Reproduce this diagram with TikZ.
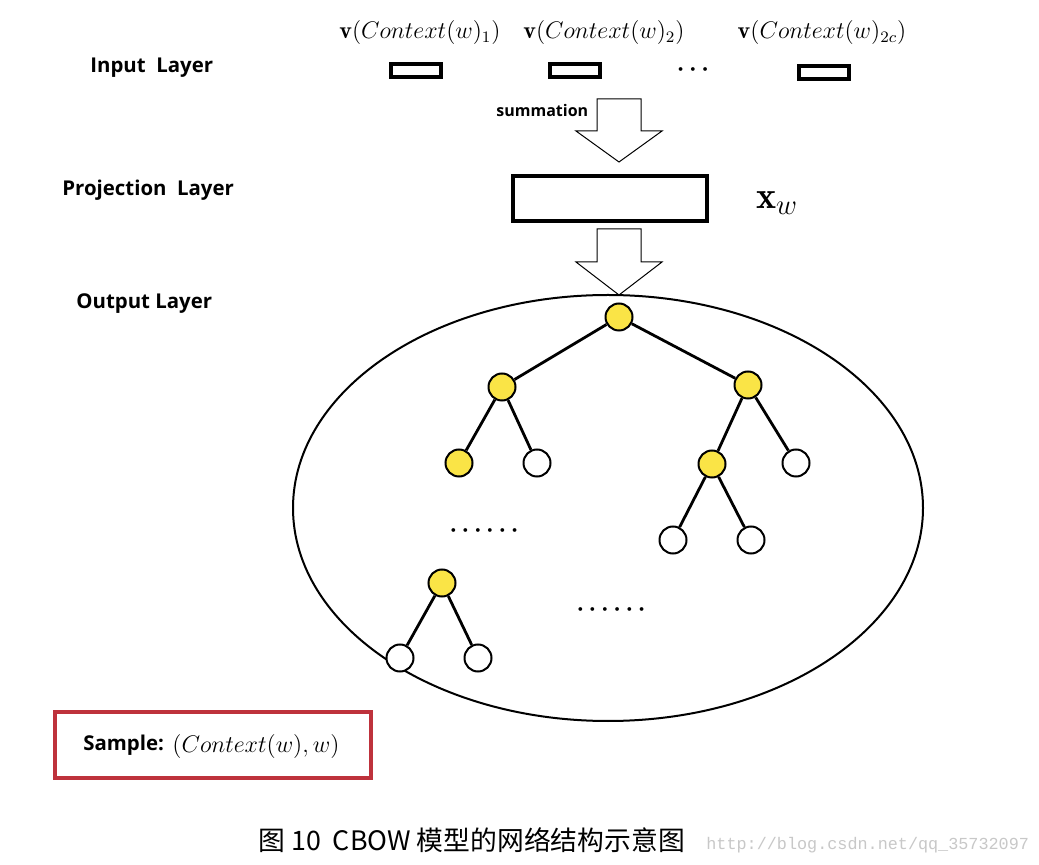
\documentclass[tikz,border=0pt]{standalone}
\usepackage{fontspec}
\newfontfamily\labfont{Open Sans}
\newfontfamily\cjk{Noto Sans CJK SC}
\newfontfamily\urlfont{Liberation Mono}
\definecolor{nodeyellow}{RGB}{250,228,70}
\definecolor{samplered}{RGB}{190,50,60}
\definecolor{urlgray}{RGB}{200,200,200}
\tikzset{
  layerlab/.style={font=\labfont\bfseries\fontsize{10.2}{12}\selectfont, inner sep=0pt, anchor=west},
  mathlab/.style={font=\fontsize{12}{14}\selectfont, inner sep=0pt},
  inbox/.style={draw, line width=2pt, minimum width=25pt, minimum height=6.5pt, inner sep=0pt},
  projbox/.style={draw, line width=2pt, minimum width=97pt, minimum height=22.5pt, inner sep=0pt},
  blockarrow/.style={draw, line width=0.5pt, fill=white},
  tnode/.style={circle, draw, line width=1pt, minimum size=13.5pt, inner sep=0pt},
  ynode/.style={tnode, fill=nodeyellow},
  wnode/.style={tnode, fill=white},
  tedge/.style={line width=1.4pt},
  dotlab/.style={font=\fontsize{12.5}{15}\selectfont\boldmath, inner sep=0pt}
}
\begin{document}
\begin{tikzpicture}[x=0.5pt,y=-0.5pt]
\useasboundingbox[fill=white] (0,0) rectangle (1039,865);
% input layer
\node[mathlab] (c1) at (420,33) {$\mathbf{v}(Context(w)_1)$};
\node[mathlab] (c2) at (604,33) {$\mathbf{v}(Context(w)_2)$};
\node[mathlab] (c3) at (822,33) {$\mathbf{v}(Context(w)_{2c})$};
\node[inbox] (b1) at (416,71) {};
\node[inbox] (b2) at (575,71) {};
\node[inbox] (b3) at (824,73) {};
\node[dotlab] (idots) at (693,70) {$\cdots$};
\node[layerlab] (il) at (90,68) {Input\ \ Layer};
% summation arrow
\node[layerlab, font=\labfont\bfseries\fontsize{8}{10}\selectfont] (sum) at (496,111) {summation};
\coordinate (a1) at (619,99);
\draw[blockarrow] ([xshift=-11pt]a1) -- ([xshift=11pt]a1) -- ++(0,32) -- ++(10.5pt,0)
  -- ([yshift=-31.5pt]a1) -- ([xshift=-21.5pt,yshift=-16pt]a1) -- ([xshift=-11pt,yshift=-16pt]a1) -- cycle;
% projection
\node[projbox] (proj) at (610,198.5) {};
\node[inner sep=0pt, font=\fontsize{19}{22}\selectfont] (xw) at (777,203) {$\mathbf{x}_w$};
\node[layerlab] (pl) at (62,190) {Projection\ \ Layer};
\coordinate (a2) at (619,229);
\draw[blockarrow] ([xshift=-11pt]a2) -- ([xshift=11pt]a2) -- ++(0,33) -- ++(10.5pt,0)
  -- ([yshift=-33pt]a2) -- ([xshift=-21.5pt,yshift=-16.5pt]a2) -- ([xshift=-11pt,yshift=-16.5pt]a2) -- cycle;
% output layer
\node[layerlab] (ol) at (76,304) {Output Layer};
\draw[line width=1pt] (608,508) ellipse [x radius=157.5pt, y radius=106.5pt];
\node[ynode] (r) at (619,317) {};
\node[ynode] (l) at (502,387) {};
\node[ynode] (rr) at (748,385) {};
\node[ynode] (ll) at (459,463) {};
\node[wnode] (lr) at (537,463) {};
\node[ynode] (rl) at (712,464) {};
\node[wnode] (rrr) at (796,463) {};
\node[wnode] (rll) at (673,540) {};
\node[wnode] (rlr) at (751,540) {};
\node[ynode] (s) at (442,583) {};
\node[wnode] (sl) at (400,658) {};
\node[wnode] (sr) at (478,658) {};
\draw[tedge] (r) -- (l); \draw[tedge] (r) -- (rr);
\draw[tedge] (l) -- (ll); \draw[tedge] (l) -- (lr);
\draw[tedge] (rr) -- (rl); \draw[tedge] (rr) -- (rrr);
\draw[tedge] (rl) -- (rll); \draw[tedge] (rl) -- (rlr);
\draw[tedge] (s) -- (sl); \draw[tedge] (s) -- (sr);
\node[dotlab] (d1) at (484,531) {$\cdots\cdots$};
\node[dotlab] (d2) at (611,610) {$\cdots\cdots$};
% sample
\node[draw=samplered, line width=2pt, minimum width=158pt, minimum height=33pt, inner sep=0pt] (samp) at (213,745) {};
\node[layerlab] (st) at (83,745) {Sample:};
\node[mathlab, anchor=west] (sm) at (172,746) {$(Context(w),w)$};
% caption
\node[inner sep=0pt, anchor=west, font=\cjk\fontsize{13.4}{15}\selectfont] (cap) at (258,840) {图 10\ \ CBOW 模型的网络结构示意图};
\node[inner sep=0pt, anchor=west, text=urlgray, font=\urlfont\fontsize{8.4}{10}\selectfont] (url) at (706,845) {http://blog.csdn.net/qq\_35732097};
\end{tikzpicture}
\end{document}
